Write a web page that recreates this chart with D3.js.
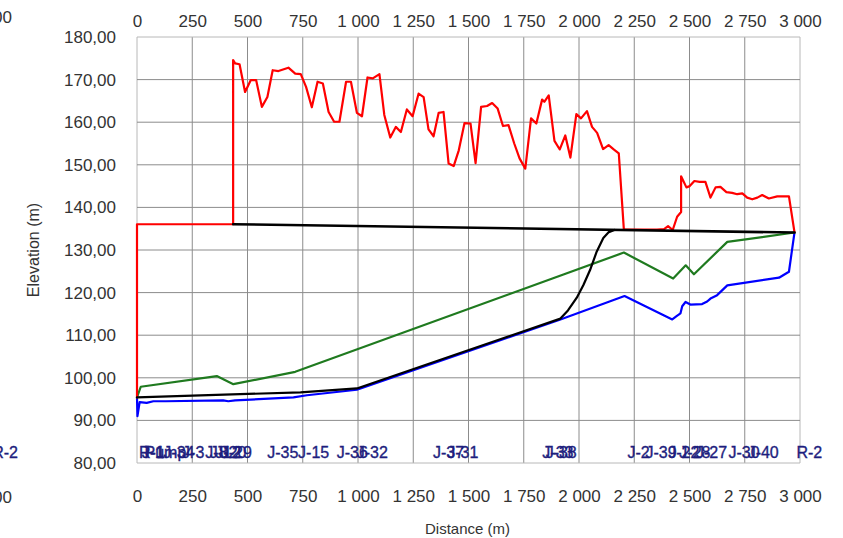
<!DOCTYPE html>
<html>
<head>
<meta charset="utf-8">
<script src="https://cdn.jsdelivr.net/npm/d3@7/dist/d3.min.js"></script>
<style>
  html, body { margin: 0; padding: 0; background: #fff; }
  svg { display: block; }
  .tick-label { font-family: "Liberation Sans Narrow", "Arial Narrow", "Liberation Sans", Arial, sans-serif; font-size: 17px; fill: #333; }
  .title { font-family: "Liberation Sans", Arial, sans-serif; font-size: 15px; fill: #333; }
  .title-v { font-size: 16px; }
  .node-label { font-family: "Liberation Sans", Arial, sans-serif; font-size: 16px; fill: #1e1e7e; stroke: #1e1e7e; stroke-width: 0.35px; }
</style>
</head>
<body>
<svg id="chart" width="843" height="538"></svg>
<script>
// Profile along the pipe route: distance (m) vs elevation (m)
const xTicks = [0, 250, 500, 750, 1000, 1250, 1500, 1750, 2000, 2250, 2500, 2750, 3000];
const yTicks = [80, 90, 100, 110, 120, 130, 140, 150, 160, 170, 180];

// Ground surface (red)
const groundDist = [0, 0, 435, 435, 444, 464, 489, 515, 539, 565, 590, 614, 640, 685, 716, 741, 765, 791, 817, 841, 867, 892, 916, 946, 968, 995, 1018, 1043, 1067, 1097, 1119, 1146, 1171, 1194, 1221, 1247, 1274, 1297, 1319, 1342, 1365, 1387, 1410, 1433, 1456, 1482, 1509, 1532, 1557, 1584, 1607, 1632, 1656, 1681, 1707, 1731, 1757, 1783, 1807, 1833, 1843, 1863, 1889, 1913, 1938, 1961, 1988, 2009, 2036, 2059, 2082, 2109, 2134, 2157, 2180, 2203, 2353, 2385, 2403, 2424, 2444, 2462, 2462, 2486, 2501, 2522, 2546, 2572, 2595, 2618, 2640, 2667, 2693, 2716, 2739, 2761, 2784, 2807, 2829, 2859, 2897, 2950, 2975];
const groundElev = [95.4, 136.05, 136.05, 174.6, 173.8, 173.6, 167.1, 169.9, 169.9, 163.6, 165.9, 172.2, 172.0, 172.8, 171.4, 171.3, 168.3, 163.5, 169.5, 169.1, 162.4, 160.1, 160.1, 169.5, 169.5, 162.2, 161.4, 170.5, 170.3, 171.3, 161.7, 156.4, 158.9, 157.7, 163.0, 161.4, 166.7, 165.9, 158.3, 156.7, 162.2, 162.4, 150.3, 149.7, 153.4, 159.8, 159.7, 150.4, 163.6, 163.8, 164.5, 163.2, 159.1, 159.3, 155.0, 151.5, 149.1, 160.9, 159.7, 165.3, 164.8, 166.3, 155.6, 153.6, 156.9, 151.7, 161.9, 160.9, 162.6, 158.9, 157.5, 153.7, 154.6, 153.6, 152.7, 134.8, 134.8, 134.9, 135.6, 134.7, 137.8, 138.9, 147.3, 144.7, 145.0, 146.2, 146.0, 146.0, 142.3, 144.7, 144.8, 143.6, 143.4, 143.1, 143.3, 142.3, 141.9, 142.3, 142.9, 142.1, 142.6, 142.6, 134.2];

// Hydraulic grade, static (black, upper)
const staticDist = [435, 2975];
const staticElev = [136.05, 134.1];

// Hydraulic grade, pumped (black, lower)
const hglDist = [0, 740, 995, 1916, 1950, 1990, 2020, 2050, 2080, 2110, 2135, 2160];
const hglElev = [95.4, 96.6, 97.5, 113.9, 115.8, 118.8, 121.8, 125.3, 129.6, 132.8, 134.2, 134.7];

// Maximum pressure envelope (green)
const maxDist = [0, 17, 361, 436, 716, 2203, 2426, 2483, 2520, 2671, 2975];
const maxElev = [95.4, 97.9, 100.4, 98.5, 101.4, 129.4, 123.3, 126.4, 124.3, 131.9, 134.1];

// Minimum pressure envelope (blue)
const minDist = [0, 2, 12, 44, 74, 130, 390, 413, 444, 708, 769, 995, 1916, 2206, 2422, 2440, 2459, 2467, 2482, 2504, 2557, 2580, 2595, 2625, 2671, 2905, 2950, 2975];
const minElev = [95.4, 91.0, 94.3, 94.1, 94.5, 94.5, 94.7, 94.5, 94.7, 95.4, 95.9, 97.2, 113.7, 119.2, 113.7, 114.4, 115.1, 116.8, 117.8, 117.2, 117.3, 117.9, 118.6, 119.4, 121.7, 123.5, 124.9, 134.1];

// Node names along the route
const nodeNames = ["R-1", "J-1", "Pump", "J-34", "J-3", "J-8", "J-12", "J-20", "J-29", "J-35", "J-15", "J-36", "J-32", "J-37", "J-31", "J-33", "J-38", "J-2", "J-39", "J-22", "J-28", "J-27", "J-30", "J-40", "R-2"];
const nodeDist = [0, 12, 25, 110, 195, 300, 320, 345, 370, 580, 720, 895, 985, 1330, 1395, 1825, 1840, 2210, 2292, 2395, 2445, 2520, 2667, 2754, 2975];

const svg = d3.select("#chart");
const W = 843, H = 538;
const pl = 137, pr = 800, pt = 37, pb = 463;

const x = d3.scaleLinear().domain([0, 3000]).range([pl, pr]);
const y = d3.scaleLinear().domain([80, 180]).range([pb, pt]);

const loc = d3.formatLocale({ decimal: ",", thousands: "\u00a0", grouping: [3], currency: ["", ""] });
const fx = loc.format(",d");
const fy = loc.format(".2f");

svg.append("rect").attr("width", W).attr("height", H).attr("fill", "#fff");

// grid
const grid = svg.append("g");
grid.selectAll("line.v").data(xTicks).join("line")
  .attr("x1", d => x(d)).attr("x2", d => x(d))
  .attr("y1", pt).attr("y2", pb)
  .attr("stroke", d => (d === 0 || d === 3000) ? "#b8b8b8" : "#8c8c8c").attr("stroke-width", 1);
grid.selectAll("line.h").data(yTicks).join("line")
  .attr("x1", pl).attr("x2", pr)
  .attr("y1", d => y(d)).attr("y2", d => y(d))
  .attr("stroke", d => (d === 80 || d === 180) ? "#b8b8b8" : "#8c8c8c").attr("stroke-width", 1);

// axes (labels only, the frame is the grid)
const axTop = d3.axisTop(x).tickValues(xTicks).tickFormat(fx).tickSize(0).tickPadding(0);
const gTop = svg.append("g").attr("transform", `translate(0,${pt - 10})`).call(axTop);
const axBottom = d3.axisBottom(x).tickValues(xTicks).tickFormat(fx).tickSize(0).tickPadding(0);
const gBot = svg.append("g").attr("transform", `translate(0,${pb + 27})`).call(axBottom);
const axLeft = d3.axisLeft(y).tickValues(yTicks).tickFormat(fy).tickSize(0).tickPadding(0);
const gLeft = svg.append("g").attr("transform", `translate(${pl - 21},0)`).call(axLeft);
[gTop, gBot, gLeft].forEach(g => {
  g.select(".domain").remove();
  g.selectAll("text").attr("class", "tick-label").attr("fill", null);
  g.attr("font-size", null).attr("font-family", null);
});
gBot.selectAll("text").attr("dy", "0.71em");

// axis titles
svg.append("text").attr("class", "title")
  .attr("x", (pl + pr) / 2 - 1).attr("y", 534).attr("text-anchor", "middle").text("Distance (m)");
svg.append("text").attr("class", "title title-v")
  .attr("transform", `translate(39,${(pt + pb) / 2}) rotate(-90)`)
  .attr("text-anchor", "middle").text("Elevation (m)");

// partial labels of the neighbouring panel at the left edge
svg.append("text").attr("class", "tick-label").attr("x", 12).attr("y", 17).attr("dy", "0.35em").attr("text-anchor", "end").text("3\u00a0000");
svg.append("text").attr("class", "node-label").attr("x", 18).attr("y", 452).attr("dy", "0.35em").attr("text-anchor", "end").text("R-2");
svg.append("text").attr("class", "tick-label").attr("x", 12).attr("y", 497).attr("dy", "0.35em").attr("text-anchor", "end").text("3\u00a0000");

// series
const line = d3.line().x(d => x(d[0])).y(d => y(d[1]));
const pairs = (ds, es) => ds.map((d, i) => [d, es[i]]);
const plot = svg.append("g");
function draw(ds, es, color, w) {
  plot.append("path").datum(pairs(ds, es)).attr("d", line)
    .attr("fill", "none").attr("stroke", color).attr("stroke-width", w)
    .attr("stroke-linejoin", "round").attr("stroke-linecap", "round");
}
draw(minDist, minElev, "#0000ff", 2.2);
draw(maxDist, maxElev, "#1f7a1f", 2.2);
draw(groundDist, groundElev, "#ff0000", 2.2);
draw(hglDist, hglElev, "#000000", 2.2);
draw(staticDist, staticElev, "#000000", 2.6);

// node labels
svg.append("g").selectAll("text").data(nodeNames).join("text")
  .attr("class", "node-label")
  .attr("x", (d, i) => x(nodeDist[i]) + 2)
  .attr("y", 452).attr("dy", "0.35em")
  .text(d => d);
</script>
</body>
</html>
